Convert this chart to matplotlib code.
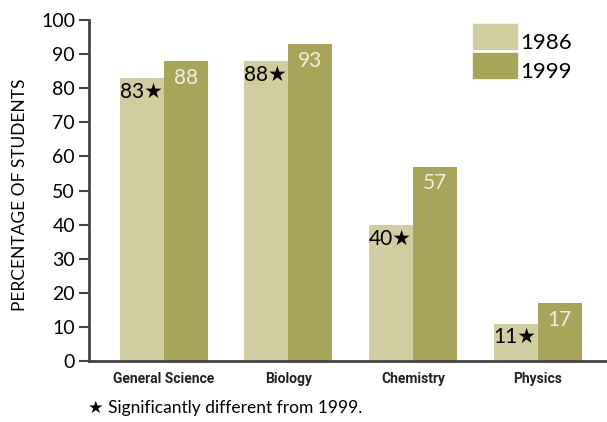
import matplotlib.pyplot as plt
from matplotlib.patches import Rectangle
import numpy as np

# data
subjects = ["General Science", "Biology", "Chemistry", "Physics"]
pct_1986 = [83, 88, 40, 11]
pct_1999 = [88, 93, 57, 17]
signif = [True, True, True, True]

light = "#d1cda1"
dark = "#a8a55b"
plt.rcParams['font.family'] = ['Lato', 'DejaVu Sans']

fig = plt.figure(figsize=(6.07, 4.22), dpi=100)
ax = fig.add_axes([0.1466, 0.1445, 0.8534, 0.8081])

x = np.arange(len(subjects))
w = 0.353
b1 = ax.bar(x - w / 2, pct_1986, w, color=light)
b2 = ax.bar(x + w / 2, pct_1999, w, color=dark)

# value labels: 1986 inside on the right with the star, 1999 centred in white
for rect, v, s in zip(b1, pct_1986, signif):
    lab = f"{v}" + ("\u2605" if s else "")
    ax.annotate(lab, (rect.get_x() + rect.get_width(), v), xytext=(-1, -10),
                textcoords="offset points", ha="right", va="center",
                fontsize=15, color="black")
for rect, v in zip(b2, pct_1999):
    ax.annotate(f"{v}", (rect.get_x() + rect.get_width() / 2, v), xytext=(0, -12),
                textcoords="offset points", ha="center", va="center",
                fontsize=15, color="#f2f0dc")

ax.set_xlim(-0.6, 3.555)
ax.set_ylim(0, 100)
ax.set_yticks(range(0, 101, 10))
ax.set_xticks(x)
ax.set_xticklabels(subjects, fontsize=10, fontweight="bold", fontstretch="condensed",
                   family=['Roboto', 'DejaVu Sans'], color="#222222")
ax.tick_params(axis="y", labelsize=14, length=7, width=1.5, color="#444444", pad=3)
ax.tick_params(axis="x", length=0, pad=8)
for sp in ["top", "right"]:
    ax.spines[sp].set_visible(False)
for sp in ["left", "bottom"]:
    ax.spines[sp].set_color("#444444")
    ax.spines[sp].set_linewidth(2)

fig.text(0.033, 0.538, "PERCENTAGE OF STUDENTS", rotation=90, fontsize=12.5,
         ha="center", va="center")

# legend as squares in the top right
legend = [("1986", light, 0.884), ("1999", dark, 0.815)]
for yr, c, yb in legend:
    fig.patches.append(Rectangle((0.779, yb), 0.0725, 0.059, color=c,
                                 transform=fig.transFigure))
    fig.text(0.857, yb, yr, fontsize=16, va="baseline", ha="left")

fig.text(0.145, 0.033, "\u2605 Significantly different from 1999.", fontsize=12.5,
         va="center", ha="left")

fig.savefig("out.png", dpi=100)
